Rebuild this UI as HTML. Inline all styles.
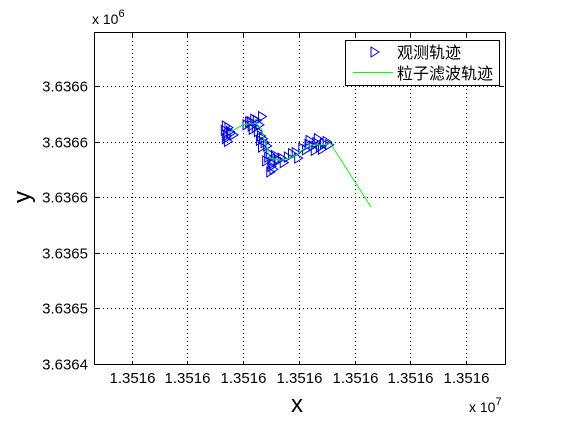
<!DOCTYPE html>
<html><head><meta charset="utf-8"><style>
body{margin:0;background:#fff;}
svg text{font-family:"Liberation Sans","Noto Sans CJK SC",sans-serif;}
</style></head><body>
<svg id="chart" width="561" height="420" viewBox="0 0 561 420">
<rect x="0" y="0" width="561" height="420" fill="#fff"/>
<g id="grid"></g>
<g id="marks"></g>
<rect x="94.5" y="32.5" width="411" height="332" fill="none" stroke="#000" stroke-width="1"/>
<g id="ticks"></g>
<text x="92" y="24" font-size="14">x 10<tspan dy="-7" font-size="11">6</tspan></text>
<text x="469" y="412" font-size="14">x 10<tspan dy="-7" font-size="11">7</tspan></text>
<text x="297" y="412" font-size="24" text-anchor="middle">x</text>
<text x="0" y="0" font-size="24" text-anchor="middle" transform="translate(30,197) rotate(-90)">y</text>
<g>
<rect x="345.5" y="40.5" width="154" height="45" fill="#fff" stroke="#000"/>
<g>
<polygon points="371,47 379,52 371,57" fill="none" stroke="#00f"/>
<text x="397" y="58" font-size="16">观测轨迹</text>
</g>
<g>
<line x1="353" y1="72.5" x2="393" y2="72.5" stroke="#0f0"/>
<text x="397" y="79" font-size="16">粒子滤波轨迹</text>
</g>
</g>
</svg>
<script>
const xTickLabels=["1.3516","1.3516","1.3516","1.3516","1.3516","1.3516","1.3516"];
const yTickLabels=["3.6364","3.6365","3.6365","3.6366","3.6366","3.6366"];
const filterX=[1.764,1.996,2.126,2.246,2.339,2.376,2.432,2.478,2.664,2.840,2.952,3.109,3.239,3.471,3.564,4.297];
const filterY=[4.17,4.30,4.32,4.32,4.21,4.03,3.88,3.70,3.66,3.70,3.76,3.88,3.94,3.94,3.97,2.82];
const obsX=[1.681,1.718,1.746,1.792,1.699,1.773,1.838,1.736,1.699,2.070,2.117,2.163,2.209,2.256,2.302,2.182,2.237,2.349,2.274,2.144,2.330,2.367,2.395,2.349,2.311,2.441,2.423,2.460,2.534,2.580,2.627,2.701,2.738,2.515,2.645,2.488,2.497,2.553,2.812,2.887,2.952,2.998,3.072,3.137,3.183,3.258,3.323,3.387,3.462,3.508,3.554,3.295,3.202,3.350,3.425];
const obsY=[4.20,4.10,4.25,4.15,4.05,4.18,4.12,4.00,4.28,4.30,4.35,4.28,4.40,4.38,4.30,4.22,4.25,4.45,4.18,4.36,4.10,4.05,3.98,3.90,4.02,3.92,3.65,3.72,3.60,3.75,3.68,3.70,3.62,3.55,3.66,3.78,3.45,3.50,3.72,3.78,3.80,3.70,3.88,3.85,3.95,3.92,3.98,3.90,3.96,4.00,3.94,3.84,4.02,4.05,3.86];
const X0=-0.677,X1=6.702,Y0=-0.027,Y1=5.973;
function sx(v){return 94+(v-X0)/(X1-X0)*411;}
function sy(v){return 365-(v-Y0)/(Y1-Y0)*333;}
const NS="http://www.w3.org/2000/svg";
const grid=document.getElementById('grid'),ticks=document.getElementById('ticks'),marks=document.getElementById('marks');
function mk(tag,attrs,parent){const e=document.createElementNS(NS,tag);for(const k in attrs)e.setAttribute(k,attrs[k]);parent.appendChild(e);return e;}
xTickLabels.forEach((t,i)=>{const x=Math.round(sx(i))+0.5;
const g=mk('line',{x1:x,y1:33,x2:x,y2:365,stroke:'#000','stroke-dasharray':'1 3'},grid);


mk('line',{x1:x,y1:365,x2:x,y2:361,stroke:'#000'},ticks);
mk('line',{x1:x,y1:33,x2:x,y2:37,stroke:'#000'},ticks);
const tx=mk('text',{x:x,y:383,'font-size':15,'text-anchor':'middle'},ticks);tx.textContent=t;

});
yTickLabels.forEach((t,i)=>{const y=Math.round(sy(i))+0.5;
const g=mk('line',{x1:95,y1:y,x2:505,y2:y,stroke:'#000','stroke-dasharray':'1 3'},grid);


mk('line',{x1:95,y1:y,x2:99,y2:y,stroke:'#000'},ticks);
mk('line',{x1:504,y1:y,x2:500,y2:y,stroke:'#000'},ticks);
const tx=mk('text',{x:88,y:y+5,'font-size':15,'text-anchor':'end'},ticks);tx.textContent=t;

});
obsX.forEach((v,i)=>{const x=sx(v),y=sy(obsY[i]);
const p=mk('polygon',{points:`${x-4},${y-5} ${x+4},${y} ${x-4},${y+5}`,fill:'none',stroke:'#00f','stroke-width':1},marks);

});
const pts=filterX.map((v,i)=>sx(v)+','+sy(filterY[i])).join(' ');
const pl=mk('polyline',{points:pts,fill:'none',stroke:'#0f0','stroke-width':1},marks);


</script>
</body></html>
